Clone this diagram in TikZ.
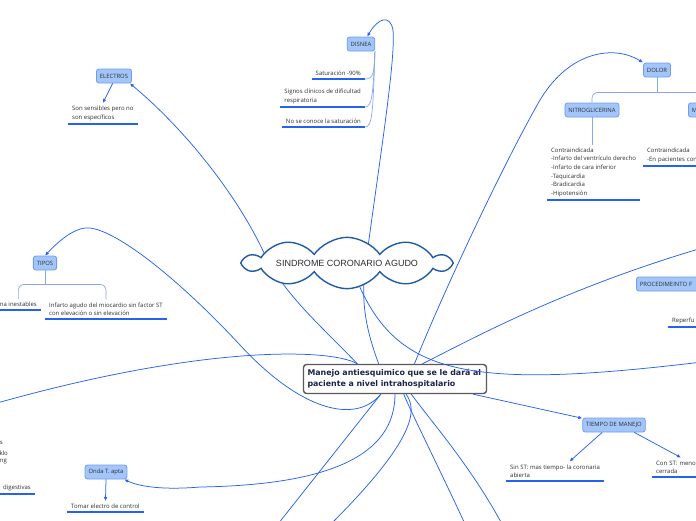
\documentclass[tikz,border=0pt]{standalone}
\usepackage{fontspec}
\setmainfont{Open Sans}
\newfontfamily\manejofont{DejaVu Sans}
\newfontfamily\cloudfont{Liberation Sans}
\usetikzlibrary{shapes.symbols, arrows.meta, backgrounds, calc}
\definecolor{linkblue}{RGB}{38,98,240}
\definecolor{branchblue}{RGB}{135,168,236}
\definecolor{topicfill}{RGB}{163,198,250}
\definecolor{topicline}{RGB}{112,156,236}
\definecolor{cloudline}{RGB}{32,92,166}
\definecolor{textgray}{RGB}{45,45,45}
\definecolor{navy}{RGB}{28,36,72}

\tikzset{
  topic/.style={draw=topicline, fill=topicfill, rounded corners=2.5pt, line width=0.8pt, text=textgray, font=\fontsize{5.9}{6.5}\selectfont, inner xsep=3.5pt, minimum height=14pt},
  leaf/.style={text=textgray, font=\fontsize{6}{8.6}\selectfont, align=left, inner xsep=4pt, inner ysep=3pt},
  uline/.style={draw=linkblue, line width=1.8pt},
  link/.style={draw=linkblue, line width=0.75pt},
  arr/.style={link, -{Latex[length=4pt,width=3.6pt]}},
  branch/.style={draw=branchblue, line width=0.7pt}
}

\begin{document}
\begin{tikzpicture}[x=1pt, y=-1pt]
\useasboundingbox (0,0) rectangle (696,520);

% main topics
\node[cloud, cloud puffs=10, cloud puff arc=110, cloud ignores aspect, draw=cloudline, fill=white, line width=1.4pt, minimum width=205pt, minimum height=40pt, text=textgray, font=\cloudfont\fontsize{9}{10}\selectfont] (sca) at (347,263) {SINDROME CORONARIO AGUDO};
\node[draw=black!65, fill=white, line width=1.4pt, rounded corners=3pt, text width=175pt, minimum height=29pt, inner xsep=4pt, align=left, text=navy, font=\manejofont\bfseries\fontsize{7.9}{11}\selectfont] (manejo) at (395,379) {Manejo antiesquimico que se le dará al\\paciente a nivel intrahospitalario};

% subtopics
\node[topic] (disnea) at (361,44) {DISNEA};
\node[topic] (electros) at (114,76) {ELECTROS};
\node[topic] (dolor) at (657,70) {DOLOR};
\node[topic] (nitro) at (592,110) {NITROGLICERINA};
\node[topic, anchor=west, text width=30pt, align=left] (dolorb) at (688,110) {M};
\node[topic] (tipos) at (45,263) {TIPOS};
\node[topic, anchor=west, text width=64pt, align=left] (proced) at (636,284) {PROCEDIMEINTO F};
\node[topic] (tiempo) at (614,425) {TIEMPO DE MANEJO};
\node[topic] (onda) at (106,472) {Onda T. apta};

% leaves
\node[leaf, anchor=south east] (sat) at (365,79) {Saturación -90\%};
\node[leaf, anchor=south east] (signos) at (365,107) {Signos clínicos de dificultad\\respiratoria};
\node[leaf, anchor=south east] (nosat) at (365,127) {No se conoce la saturación};
\node[leaf, anchor=south west] (sensibles) at (68,124) {Son sensibles pero no\\son específicos};
\node[leaf, anchor=south west] (nitrolist) at (547,200) {Contraindicada\\-Infarto del ventrículo derecho\\-Infarto de cara inferior\\-Taquicardia\\-Bradicardia\\-Hipotensión};
\node[leaf, anchor=south west, text width=58pt] (contra) at (643,166) {Contraindicada\\-En pacientes con};
\node[leaf, anchor=south east] (inestables) at (41,310) {na inestables};
\node[leaf, anchor=south west] (infarto) at (45,319) {Infarto agudo del miocardio sin factor ST\\con elevación o sin elevación};
\node[leaf, anchor=south west, text width=26pt] (reperf) at (668,327) {Reperfu};
\node[leaf, anchor=south west] (sinst) at (506,481) {Sin ST: mas tiempo- la coronaria\\abierta};
\node[leaf, anchor=south west, text width=42pt] (const) at (652,477) {Con ST: meno\\cerrada};
\node[leaf, anchor=south west] (tomar) at (67,512) {Tomar electro de control};
\node[leaf, anchor=south east] (digest) at (35,494) {digestivas};
\foreach \t/\xe/\yc [count=\i] in {s/3/443, klo/8/453, ng/7/462}
  \node[leaf, inner sep=0pt, anchor=east] (frag\i) at (\xe,\yc) {\t};

\foreach \n in {sat,signos,nosat,sensibles,nitrolist,contra,inestables,infarto,reperf,sinst,const,tomar,digest}
  \draw[uline] (\n.south west) -- (\n.south east);

% loose ends beyond the frame
\coordinate (offleft) at (-10,405);
\coordinate (offright1) at (702,362);
\coordinate (offright2) at (702,248);
\coordinate (offbottom1) at (278,524);
\coordinate (offbottom2) at (331,524);
\coordinate (offbottom3) at (465,524);
\coordinate (offbottom4) at (502,524);

\begin{scope}[on background layer]
  \draw[arr] (manejo.158) .. controls (320,325) and (285,295) .. (265,255) .. controls (235,190) and (180,125) .. (electros.-25);
  \draw[arr] (manejo.137) .. controls (366,330) and (360,300) .. (366,262) .. controls (378,170) and (396,60) .. (393,30) .. controls (390,14) and (378,18) .. (disnea.50);
  \draw[arr] (manejo.38) .. controls (440,300) and (500,170) .. (540,100) .. controls (570,50) and (615,45) .. (dolor.north west);
  \draw[link] (manejo.158) .. controls (330,348) and (200,345) .. (offleft);
  \draw[arr] (manejo.-133) .. controls (355,425) and (300,410) .. (240,345) .. controls (175,275) and (110,225) .. (85,228) .. controls (70,230) and (55,245) .. (tipos.north);
  \draw[link] (manejo.29) .. controls (470,340) and (560,290) .. (offright2);
  \draw[arr] (manejo.-90) .. controls (395,455) and (330,485) .. (200,487) .. controls (165,490) and (140,487) .. (onda.-22);
  \draw[link] (manejo.-133) -- (offbottom1);
  \draw[link] (manejo.-54) .. controls (418,410) and (415,440) .. (offbottom2);
  \draw[link] (manejo.-60) .. controls (410,410) and (440,470) .. (offbottom3);
  \draw[link] (manejo.-43) .. controls (430,420) and (470,465) .. (offbottom4);
  \draw[arr] (manejo.-11) -- (tiempo.168);
\end{scope}
\draw[link] (sca.-62) .. controls (400,375) and (470,390) .. (offright1);

% branches
\draw[branch] (disnea.-28) .. controls (374,72) and (374,79) .. (sat.south east);
\draw[branch] (disnea.-28) .. controls (373,95) and (372,107) .. (signos.south east);
\draw[branch] (disnea.-28) .. controls (373,115) and (372,127) .. (nosat.south east);
\draw[branch] (dolor.south) -- ++(0,15) coordinate (dolorfork);
\draw[branch, rounded corners=6pt] (dolorfork) -| (nitro.north);
\draw[branch, rounded corners=6pt] (dolorfork) -| (dolorb.north);
\draw[branch] (nitro.south) -- (nitro.south |- nitrolist.north);
\draw[branch] (tipos.south) -- ++(0,14) coordinate (tiposfork);
\draw[branch, rounded corners=6pt] (tiposfork) -| (inestables.north);
\draw[branch, rounded corners=6pt] (tiposfork) -| (infarto.north);

\draw[arr] (electros.-100) -- (sensibles.north);
\draw[arr] (tiempo.-148) -- (sinst.34);
\draw[arr] (tiempo.-20) -- (const.69);
\draw[arr] (onda.south) -- (tomar.north);
\end{tikzpicture}
\end{document}
